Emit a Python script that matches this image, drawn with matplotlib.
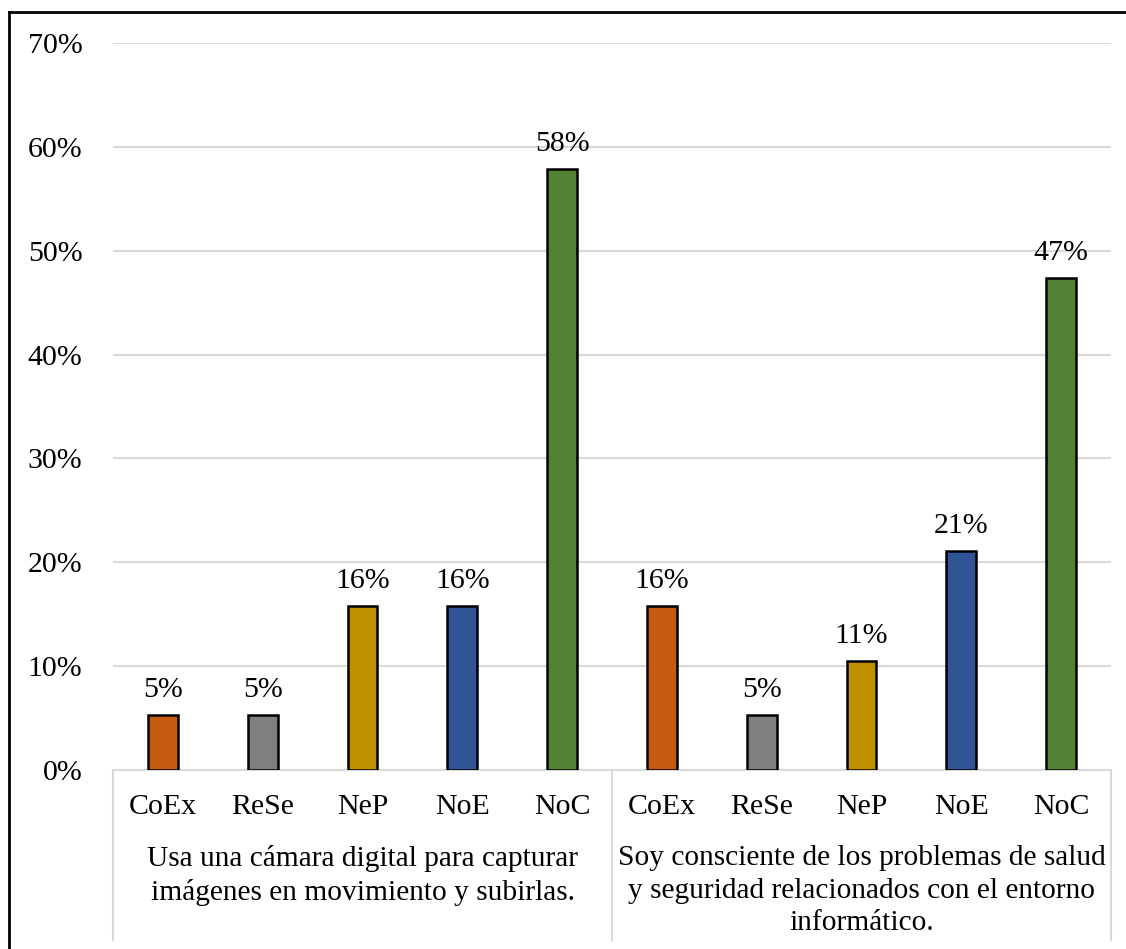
import matplotlib.pyplot as plt
from matplotlib.lines import Line2D
import matplotlib.transforms as mtransforms

plt.rcParams['font.family'] = ['Liberation Serif', 'DejaVu Serif']

# --- data -------------------------------------------------------------
levels = ['CoEx', 'ReSe', 'NeP', 'NoE', 'NoC']
groups = ['Usa una cámara digital para capturar\nimágenes en movimiento y subirlas.',
          'Soy consciente de los problemas de salud\ny seguridad relacionados con el entorno\ninformático.']
camara = [5.26, 5.26, 15.79, 15.79, 57.89]
salud = [15.79, 5.26, 10.53, 21.05, 47.37]
colors = ['#C55A11', '#7F7F7F', '#BF9000', '#2F5597', '#548235']
yticks = [0, 10, 20, 30, 40, 50, 60, 70]

W, H = 1126, 949
fig = plt.figure(figsize=(W / 100, H / 100), dpi=100)
ax = fig.add_axes([113 / W, 1 - 770 / H, (1111 - 113) / W, (770 - 43) / H])

fs = 21.5
vals = camara + salud
xs = list(range(len(vals)))
cols = colors + colors
ax.bar(xs, vals, width=0.3, color=cols, edgecolor='black', linewidth=1.8, zorder=3)
for x, v in zip(xs, vals):
    ax.annotate(f'{v:.0f}%', (x, v), xytext=(0, 12), textcoords='offset pixels',
                ha='center', va='bottom', fontsize=fs)

ax.set_xlim(-0.5, len(vals) - 0.5)
ax.set_ylim(0, 70)
ax.set_yticks(yticks)
ax.set_yticklabels([f'{t}%' for t in yticks], fontsize=fs)
ax.tick_params(axis='y', length=0, pad=22)
ax.set_xticks(xs)
ax.set_xticklabels(levels * 2, fontsize=fs)
ax.tick_params(axis='x', length=0, pad=17)
ax.grid(axis='y', color='#D9D9D9', lw=1.5, zorder=0)
for s in ['top', 'right', 'left']:
    ax.spines[s].set_visible(False)
ax.spines['bottom'].set_color('#D9D9D9')
ax.spines['bottom'].set_linewidth(1.5)

# multi-level category axis
ah = 770 - 43
trans = mtransforms.blended_transform_factory(ax.transData, ax.transAxes)
for i, g in enumerate(groups):
    cx = i * len(levels) + (len(levels) - 1) / 2
    ax.text(cx, -(845 - 770) / ah, g, transform=trans, ha='center', va='top',
            fontsize=21.2, linespacing=1.33, clip_on=False)
for b in range(len(groups) + 1):
    ax.add_line(Line2D([b * len(levels) - 0.5] * 2, [0, -(940 - 770) / ah], transform=trans,
                       color='#D9D9D9', lw=1.5, clip_on=False))

# chart border (top and left visible)
fig.add_artist(Line2D([9 / W, 1.0], [1 - 12 / H] * 2, color='black', lw=2))
fig.add_artist(Line2D([9 / W] * 2, [0, 1 - 12 / H], color='black', lw=2))

fig.savefig('out.png', dpi=100)
